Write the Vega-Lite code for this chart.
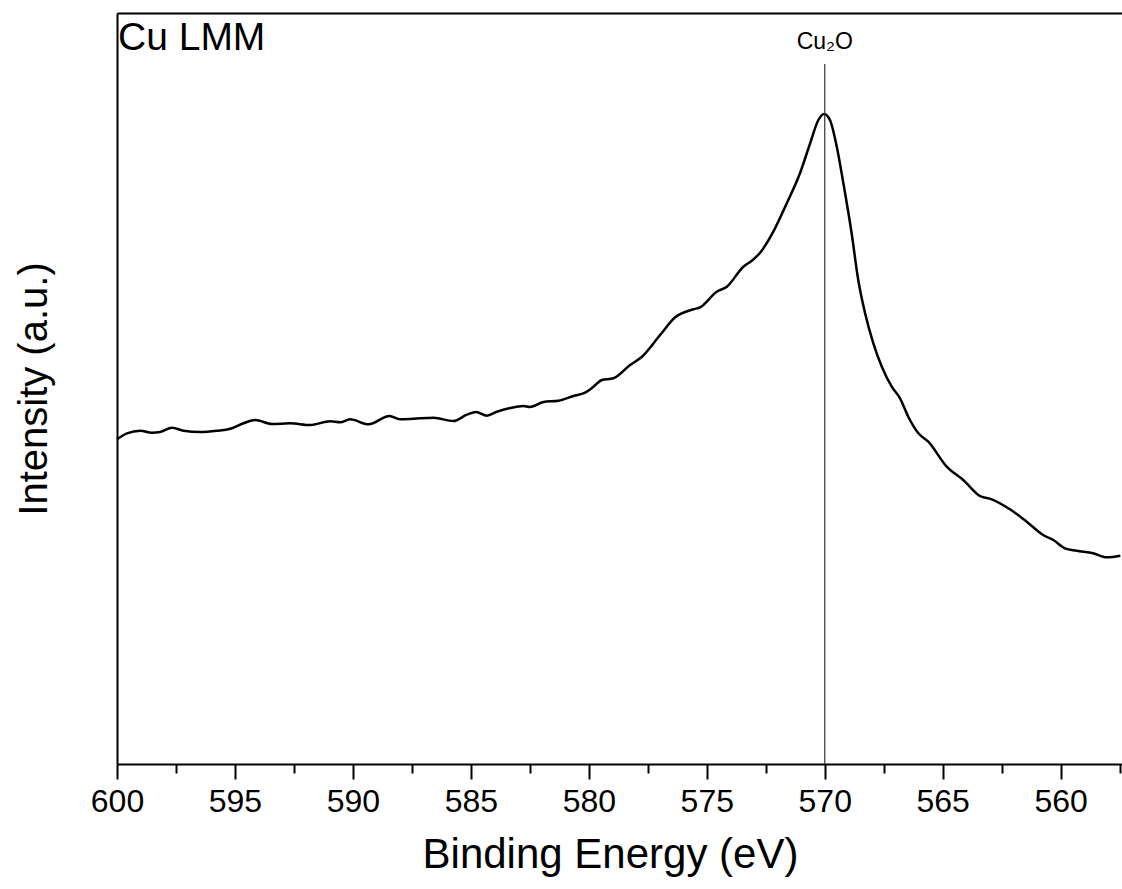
{
  "$schema": "https://vega.github.io/schema/vega-lite/v6.json",
  "width": 1005,
  "height": 751,
  "autosize": "none",
  "padding": {"left": 117, "top": 13, "right": 0, "bottom": 125},
  "background": "white",
  "config": {
    "view": {"stroke": null},
    "font": "Liberation Sans",
    "axis": {"grid": false, "domainColor": "black", "tickColor": "black", "labelColor": "black", "titleColor": "black", "titleFontWeight": "normal", "domainWidth": 2, "tickWidth": 2}
  },
  "datasets": {
    "spectrum": [
      {"be": 600.0, "intensity": 324.7}, {"be": 599.58, "intensity": 330.7}, {"be": 599.01, "intensity": 333.3},
      {"be": 598.52, "intensity": 331.3}, {"be": 598.17, "intensity": 332}, {"be": 597.67, "intensity": 336.3},
      {"be": 597.18, "intensity": 333.3}, {"be": 596.47, "intensity": 332}, {"be": 595.76, "intensity": 333.3},
      {"be": 595.2, "intensity": 335.3}, {"be": 594.64, "intensity": 340.7}, {"be": 594.14, "intensity": 344},
      {"be": 593.43, "intensity": 340}, {"be": 592.66, "intensity": 340.7}, {"be": 591.81, "intensity": 339},
      {"be": 590.96, "intensity": 342.7}, {"be": 590.54, "intensity": 341.7}, {"be": 590.12, "intensity": 344.7},
      {"be": 589.34, "intensity": 339.7}, {"be": 588.45, "intensity": 348}, {"be": 588.0, "intensity": 344.7},
      {"be": 587.43, "intensity": 345.3}, {"be": 586.58, "intensity": 346.3}, {"be": 585.74, "intensity": 343},
      {"be": 585.17, "intensity": 349.3}, {"be": 584.78, "intensity": 352}, {"be": 584.32, "intensity": 348.3},
      {"be": 583.9, "intensity": 352.3}, {"be": 583.33, "intensity": 356}, {"be": 582.77, "intensity": 358},
      {"be": 582.49, "intensity": 357}, {"be": 581.92, "intensity": 362}, {"be": 581.29, "intensity": 363.3},
      {"be": 580.65, "intensity": 368}, {"be": 580.16, "intensity": 371.3}, {"be": 579.8, "intensity": 377.3},
      {"be": 579.45, "intensity": 384}, {"be": 578.96, "intensity": 385.7}, {"be": 578.25, "intensity": 399},
      {"be": 577.75, "intensity": 407.3}, {"be": 576.98, "intensity": 429}, {"be": 576.34, "intensity": 446.7},
      {"be": 575.57, "intensity": 454.7}, {"be": 575.28, "intensity": 456.7}, {"be": 574.58, "intensity": 472.3},
      {"be": 574.15, "intensity": 477.3}, {"be": 573.45, "intensity": 497.3}, {"be": 573.09, "intensity": 503.3},
      {"be": 572.74, "intensity": 511.3}, {"be": 572.18, "intensity": 532.3}, {"be": 571.61, "intensity": 560.7},
      {"be": 571.05, "intensity": 590.7}, {"be": 570.62, "intensity": 620.7}, {"be": 570.27, "intensity": 644},
      {"be": 570.03, "intensity": 650}, {"be": 569.78, "intensity": 644}, {"be": 569.49, "intensity": 617.3},
      {"be": 569.21, "intensity": 580.7}, {"be": 568.86, "intensity": 530.7}, {"be": 568.58, "intensity": 484},
      {"be": 568.29, "intensity": 450.7}, {"be": 567.94, "intensity": 420.7}, {"be": 567.58, "intensity": 397.3},
      {"be": 567.16, "intensity": 377.3}, {"be": 566.81, "intensity": 365.7}, {"be": 566.46, "intensity": 347.3},
      {"be": 566.03, "intensity": 330.7}, {"be": 565.61, "intensity": 322.3}, {"be": 564.83, "intensity": 297.3},
      {"be": 564.13, "intensity": 284}, {"be": 563.42, "intensity": 268}, {"be": 562.92, "intensity": 264.7},
      {"be": 562.15, "intensity": 254.7}, {"be": 561.44, "intensity": 242.3}, {"be": 560.74, "intensity": 229},
      {"be": 560.31, "intensity": 224}, {"be": 559.82, "intensity": 215.7}, {"be": 559.32, "intensity": 213.3},
      {"be": 558.62, "intensity": 210.7}, {"be": 558.05, "intensity": 206.7}, {"be": 557.47, "intensity": 208.3}
    ],
    "marker": [{"be": 570, "y": 0, "y2": 700}],
    "labels": [
      {"be": 570, "y": 715, "label": "Cu₂O", "kind": "peak"},
      {"be": 600, "y": 714, "label": "Cu LMM", "kind": "panel"}
    ]
  },
  "layer": [
    {
      "data": {"name": "spectrum"},
      "mark": {"type": "line", "color": "black", "strokeWidth": 2.5, "interpolate": "monotone"},
      "encoding": {
        "x": {
          "field": "be", "type": "quantitative",
          "scale": {"domain": [557.4, 600], "reverse": true, "nice": false, "zero": false},
          "axis": {
            "orient": "bottom", "values": [560, 565, 570, 575, 580, 585, 590, 595, 600], "format": "d",
            "title": "Binding Energy (eV)", "titleFontSize": 42, "titlePadding": 17, "titleX": 493,
            "labelFontSize": 32, "labelPadding": 7, "tickSize": 15, "labelFlush": false
          }
        },
        "y": {
          "field": "intensity", "type": "quantitative",
          "scale": {"domain": [0, 751], "nice": false, "zero": false},
          "axis": {"orient": "left", "ticks": false, "labels": false, "title": "Intensity (a.u.)", "titleFontSize": 40, "titlePadding": 63}
        }
      }
    },
    {
      "data": {"name": "marker"},
      "mark": {"type": "rule", "color": "#333333", "strokeWidth": 1.2},
      "encoding": {
        "x": {
          "field": "be", "type": "quantitative",
          "scale": {"domain": [557.4, 600], "reverse": true, "nice": false, "zero": false},
          "axis": {"orient": "bottom", "values": [557.5, 562.5, 567.5, 572.5, 577.5, 582.5, 587.5, 592.5, 597.5], "labels": false, "domain": false, "title": null, "tickSize": 9}
        },
        "y": {"field": "y", "type": "quantitative", "scale": {"domain": [0, 751], "nice": false, "zero": false}, "axis": null},
        "y2": {"field": "y2"}
      }
    },
    {
      "data": {"name": "labels"},
      "transform": [{"filter": "datum.kind === 'peak'"}],
      "mark": {"type": "text", "align": "center", "baseline": "alphabetic", "fontSize": 23, "color": "black"},
      "encoding": {
        "x": {
          "field": "be", "type": "quantitative",
          "scale": {"domain": [557.4, 600], "reverse": true, "nice": false, "zero": false},
          "axis": {"orient": "top", "ticks": false, "labels": false, "title": null, "domain": true}
        },
        "y": {"field": "y", "type": "quantitative", "scale": {"domain": [0, 751], "nice": false, "zero": false}, "axis": null},
        "text": {"field": "label"}
      }
    },
    {
      "data": {"name": "labels"},
      "transform": [{"filter": "datum.kind === 'panel'"}],
      "mark": {"type": "text", "align": "left", "baseline": "alphabetic", "fontSize": 39, "color": "black", "dx": 1},
      "encoding": {
        "x": {
          "field": "be", "type": "quantitative",
          "scale": {"domain": [557.4, 600], "reverse": true, "nice": false, "zero": false},
          "axis": null
        },
        "y": {"field": "y", "type": "quantitative", "scale": {"domain": [0, 751], "nice": false, "zero": false}, "axis": null},
        "text": {"field": "label"}
      }
    }
  ],
  "resolve": {"axis": {"x": "independent", "y": "independent"}}
}
